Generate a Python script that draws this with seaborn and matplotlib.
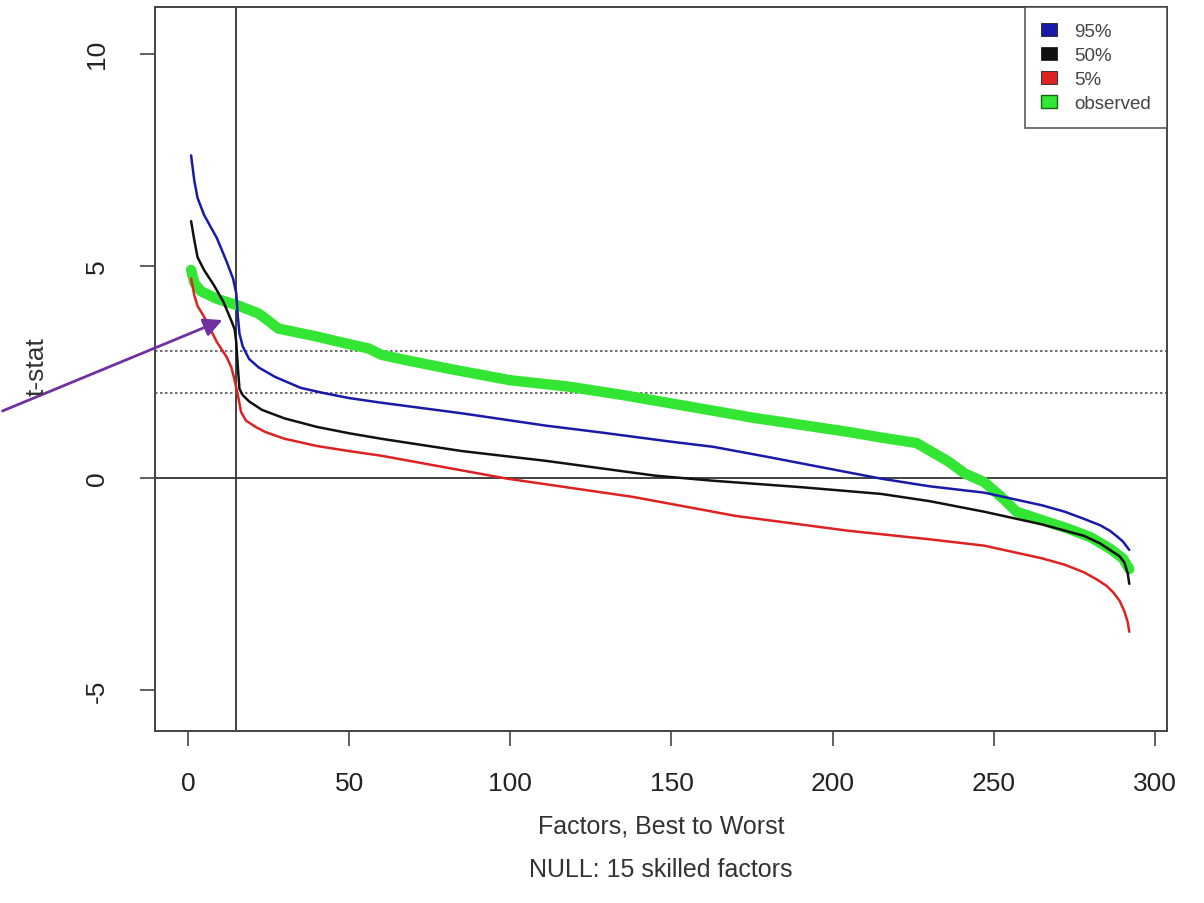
import matplotlib
matplotlib.use("Agg")
import matplotlib.pyplot as plt
import seaborn as sns
import pandas as pd
from matplotlib.patches import Patch

# ---- data ----
x_95 = [1, 2, 3, 5, 9, 12, 14, 15, 15.5, 16, 17, 19, 22, 27, 35, 42, 50, 60, 85, 111, 128, 150, 163, 180, 204, 215, 230, 247, 265, 272, 278, 283, 286, 288, 290, 291, 292]
y_95 = [7.6, 7.0, 6.6, 6.2, 5.65, 5.1, 4.7, 4.35, 3.8, 3.4, 3.1, 2.8, 2.6, 2.38, 2.12, 2.0, 1.88, 1.77, 1.52, 1.23, 1.07, 0.85, 0.73, 0.49, 0.14, -0.02, -0.2, -0.35, -0.65, -0.8, -0.97, -1.12, -1.25, -1.37, -1.5, -1.6, -1.7]

x_50 = [1, 2, 3, 5, 8, 11, 13.5, 14.5, 15, 15.5, 16, 17, 19, 23, 30, 40, 50, 60, 85, 111, 145, 163, 190, 215, 230, 247, 265, 278, 283, 286, 289, 290.5, 291.5, 292]
y_50 = [6.05, 5.6, 5.2, 4.9, 4.55, 4.15, 3.7, 3.5, 3.2, 2.6, 2.1, 1.95, 1.8, 1.6, 1.4, 1.2, 1.05, 0.92, 0.63, 0.4, 0.05, -0.07, -0.22, -0.38, -0.55, -0.8, -1.1, -1.37, -1.55, -1.7, -1.85, -2.0, -2.25, -2.5]

x_5 = [1, 2, 3, 5, 7, 9, 12, 13.5, 14.5, 15.5, 16.5, 18, 21, 24, 30, 40, 50, 60, 99, 138, 170, 205, 230, 247, 265, 272, 278, 282, 285, 287, 289, 290.5, 291.5, 292]
y_5 = [4.7, 4.3, 4.05, 3.8, 3.5, 3.2, 2.85, 2.6, 2.3, 1.95, 1.55, 1.35, 1.2, 1.08, 0.92, 0.75, 0.63, 0.52, -0.02, -0.45, -0.9, -1.25, -1.45, -1.6, -1.9, -2.05, -2.23, -2.4, -2.55, -2.7, -2.9, -3.15, -3.4, -3.63]

x_obs = [1, 2, 4, 9, 16, 22, 25, 28, 40, 50, 56, 60, 66, 81, 100, 118, 135, 154, 175, 190, 205, 215, 226, 231, 236, 241, 247, 253, 257, 265, 273, 280, 286, 290, 292]
y_obs = [4.9, 4.6, 4.4, 4.22, 4.05, 3.87, 3.7, 3.52, 3.33, 3.15, 3.05, 2.9, 2.8, 2.57, 2.3, 2.15, 1.95, 1.7, 1.42, 1.25, 1.08, 0.95, 0.82, 0.6, 0.38, 0.1, -0.1, -0.5, -0.8, -1.0, -1.2, -1.4, -1.67, -1.9, -2.15]

legend_labels = ["95%", "50%", "5%", "observed"]
x_ticks = [0, 50, 100, 150, 200, 250, 300]
y_ticks = [-5, 0, 5, 10]
n_skilled = 15
ref_levels = [2, 3]

sns.set_theme(style="white")
plt.rcParams['font.family'] = ['Liberation Sans', 'DejaVu Sans']

fig = plt.figure(figsize=(12.04, 9.04), dpi=100)
W, H = 1204, 904
ax = fig.add_axes([155 / W, 1 - 732 / H, (1167 - 155) / W, (732 - 8) / H])

c_blue, c_black, c_red, c_green = "#1a1aa8", "#111111", "#dd2222", "#33e633"

sns.lineplot(x=x_obs, y=y_obs, ax=ax, color=c_green, lw=7.5, zorder=3, estimator=None, sort=False)
sns.lineplot(x=x_95, y=y_95, ax=ax, color=c_blue, lw=1.8, zorder=4, estimator=None, sort=False)
sns.lineplot(x=x_50, y=y_50, ax=ax, color=c_black, lw=1.8, zorder=4, estimator=None, sort=False)
sns.lineplot(x=x_5, y=y_5, ax=ax, color=c_red, lw=1.8, zorder=4, estimator=None, sort=False)

ax.axhline(0, color="#333333", lw=1.3, zorder=2)
ax.axvline(n_skilled, color="#333333", lw=1.3, zorder=2)
for lv in ref_levels:
    ax.axhline(lv, color="#555555", lw=1.2, ls=(0, (1.5, 1.5)), zorder=2)

ax.set_xlim(-10.2, 303.7)
ax.set_ylim(-5.97, 11.1)
ax.set_xticks(x_ticks)
ax.set_yticks(y_ticks)
ax.set_xticklabels([str(t) for t in x_ticks])
ax.set_yticklabels([str(t) for t in y_ticks], rotation=90, va="center")
ax.tick_params(axis="both", direction="out", length=11, width=1.2, colors="#444444",
               labelsize=19, labelcolor="#222222", bottom=True, left=True)
ax.tick_params(axis="x", pad=18)
ax.tick_params(axis="y", pad=22)
for s in ax.spines.values():
    s.set_color("#444444")
    s.set_linewidth(1.4)
ax.set_xlabel("")
ax.set_ylabel("")

handles = [Patch(facecolor=c_blue, edgecolor="#222222", lw=0.6),
           Patch(facecolor=c_black, edgecolor="#222222", lw=0.6),
           Patch(facecolor=c_red, edgecolor="#222222", lw=0.6),
           Patch(facecolor=c_green, edgecolor="#116611", lw=1.0)]
leg = ax.legend(handles, legend_labels, loc="upper right", borderaxespad=0, fancybox=False,
                frameon=True, edgecolor="#444444", fontsize=13.5, handlelength=0.9, handleheight=0.65,
                handletextpad=0.9, labelspacing=0.38, borderpad=0.85)
leg.get_frame().set_linewidth(1.3)
for t in leg.get_texts():
    t.set_color("#444444")

fig.text(37 / W, 1 - 367 / H, "t-stat", rotation=90, ha="center", va="center", fontsize=19, color="#333333")
fig.text(661 / W, 1 - 827 / H, "Factors, Best to Worst", ha="center", va="center", fontsize=18, color="#333333")
fig.text(661 / W, 1 - 870 / H, "NULL: 15 skilled factors", ha="center", va="center", fontsize=18, color="#333333")

ax.annotate("", xy=(225 / W, 1 - 320 / H), xycoords="figure fraction",
            xytext=(0, 1 - 413 / H), textcoords="figure fraction",
            arrowprops=dict(arrowstyle="-|>", color="#7030A0", lw=2, mutation_scale=28),
            annotation_clip=False, zorder=10)

fig.savefig("out.png", dpi=100)
